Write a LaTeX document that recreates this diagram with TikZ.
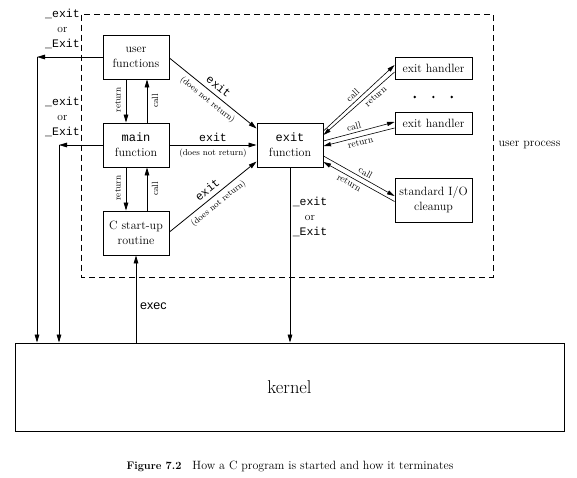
\documentclass[tikz,border=0pt]{standalone}
\usepackage{fontspec}
\setmonofont{Liberation Mono}
\newfontfamily\exsans{Liberation Sans}
\usetikzlibrary{arrows.meta,calc}
\begin{document}
\begin{tikzpicture}[x=1pt,y=-1pt,
  box/.style={draw, line width=0.9pt, inner sep=0pt, align=center,
    font=\fontsize{12}{15}\selectfont},
  bigbox/.style={box, minimum width=66pt, minimum height=44pt},
  hbox/.style={box, minimum width=77pt},
  arr/.style={line width=0.8pt, -{Triangle[length=8pt,width=4.6pt]}},
  sarr/.style={line width=0.6pt, -{Triangle[length=7.5pt,width=4.2pt]}},
  rarr/.style={line width=0.6pt, {Triangle[length=7.5pt,width=4.2pt]}-},
  lbl/.style={inner sep=0.5pt, font=\fontsize{9}{10}\selectfont},
  hlbl/.style={inner sep=0.5pt, font=\fontsize{9.5}{10}\selectfont},
  dnr/.style={inner sep=0.5pt, font=\fontsize{8.7}{10}\selectfont},
  mlbl/.style={inner sep=0.5pt, font=\ttfamily\fontsize{11.5}{12}\selectfont},
  exitlbl/.style={align=center, inner sep=0pt, font=\fontsize{11.5}{15}\selectfont},
]
\useasboundingbox (0,0) rectangle (577,477);

% user process region
\draw[line width=0.9pt, dash pattern=on 6pt off 4pt] (81.5,14.5) rectangle (493,277);
\node[font=\fontsize{12}{14}\selectfont] (up) at (529.5,145) {user process};

% boxes
\node[bigbox] (uf) at (136,57) {user\\functions};
\node[bigbox] (mf) at (136,145) {\texttt{main}\\function};
\node[bigbox] (cs) at (136,233) {C start-up\\routine};
\node[bigbox] (ef) at (290,145) {\texttt{exit}\\function};
\node[hbox, minimum height=22pt] (h1) at (433.5,68) {exit handler};
\node[hbox, minimum height=22pt] (h2) at (433.5,123.5) {exit handler};
\node[hbox, minimum height=44pt] (io) at (433.5,200) {standard I/O\\cleanup};
\node[box, minimum width=549pt, minimum height=88pt, font=\fontsize{18.5}{20}\selectfont] (kern) at (289.5,387) {kernel};

% dots
\fill (414.7,97) circle[radius=1.3pt];
\fill (433.3,97) circle[radius=1.3pt];
\fill (451.7,97) circle[radius=1.3pt];

% left exits
\coordinate (c1) at (uf.west -| 37,0);
\coordinate (c2) at (mf.west -| 59,0);
\draw[arr] (uf.west) -- (c1);
\draw[arr] (c1) -- (c1 |- kern.north);
\draw[arr] (mf.west) -- (c2);
\draw[arr] (c2) -- (c2 |- kern.north);
\node[exitlbl] (l1) at (62.5,29) {\texttt{\_exit}\\or\\\texttt{\_Exit}};
\node[exitlbl] (l2) at (62.5,117) {\texttt{\_exit}\\or\\\texttt{\_Exit}};

% call / return between left boxes
\draw[arr] ([xshift=-10pt]uf.south) -- ([xshift=-10pt]mf.north);
\draw[arr] ([xshift=11pt]mf.north) -- ([xshift=11pt]uf.south);
\draw[arr] ([xshift=-10pt]mf.south) -- ([xshift=-10pt]cs.north);
\draw[arr] ([xshift=11pt]cs.north) -- ([xshift=11pt]mf.south);
\node[lbl, rotate=90] (r1) at ($(uf.south)!0.5!(mf.north)+(-18pt,1pt)$) {return};
\node[lbl, rotate=90] (k1) at ($(uf.south)!0.5!(mf.north)+(19pt,0pt)$) {call};
\node[lbl, rotate=90] (r2) at ($(mf.south)!0.5!(cs.north)+(-18pt,1pt)$) {return};
\node[lbl, rotate=90] (k2) at ($(mf.south)!0.5!(cs.north)+(19pt,0pt)$) {call};

% exec
\draw[arr] (cs.south |- kern.north) -- (cs.south);
\node[font=\exsans\fontsize{12.5}{13}\selectfont, anchor=west, inner sep=0pt] (exl) at (140,306) {exec};

% exit arrows to exit function
\draw[arr] ([yshift=-1pt]uf.east) -- node[mlbl, sloped, above=4pt]{exit}
  node[dnr, sloped, below=3.5pt]{(does not return)} ([yshift=16.5pt]ef.west);
\draw[arr] (mf.east) -- node[mlbl, above=2.5pt]{exit}
  node[dnr, below=3pt]{(does not return)} (ef.west);
\draw[arr] ([yshift=1pt]cs.east) -- node[mlbl, sloped, above=4pt]{exit}
  node[dnr, sloped, below=3.5pt]{(does not return)} ([yshift=-16.5pt]ef.west);

% exit function to kernel
\draw[arr] (ef.south) -- (ef.south |- kern.north);
\node[exitlbl] (l3) at (310,217) {\texttt{\_exit}\\or\\\texttt{\_Exit}};

% exit handlers
\draw[sarr] ([yshift=14pt]ef.east) -- node[hlbl, sloped, above=2pt, pos=0.47]{call} ([yshift=3pt]h1.west);
\draw[rarr] ([yshift=10pt]ef.east) -- node[hlbl, sloped, below=2pt, pos=0.68]{return} ([yshift=-4pt]h1.west);
\draw[sarr] ([yshift=4pt]ef.east) -- node[hlbl, sloped, above=2pt, pos=0.45]{call} ([yshift=1.5pt]h2.west);
\draw[rarr] ([yshift=-1pt]ef.east) -- node[hlbl, sloped, below=2pt, pos=0.5]{return} ([yshift=-4.5pt]h2.west);
\draw[sarr] ([yshift=-11pt]ef.east) -- node[hlbl, sloped, above=2pt, pos=0.55]{call} ([yshift=4pt]io.west);
\draw[rarr] ([yshift=-17pt]ef.east) -- node[hlbl, sloped, below=2pt, pos=0.4]{return} ([yshift=-1.5pt]io.west);

% caption
\node (cap) at (290,466) {\fontsize{11}{13}\selectfont\textbf{Figure 7.2}\hspace{11pt}\fontsize{12}{13}\selectfont How a C program is started and how it terminates};
\end{tikzpicture}
\end{document}
